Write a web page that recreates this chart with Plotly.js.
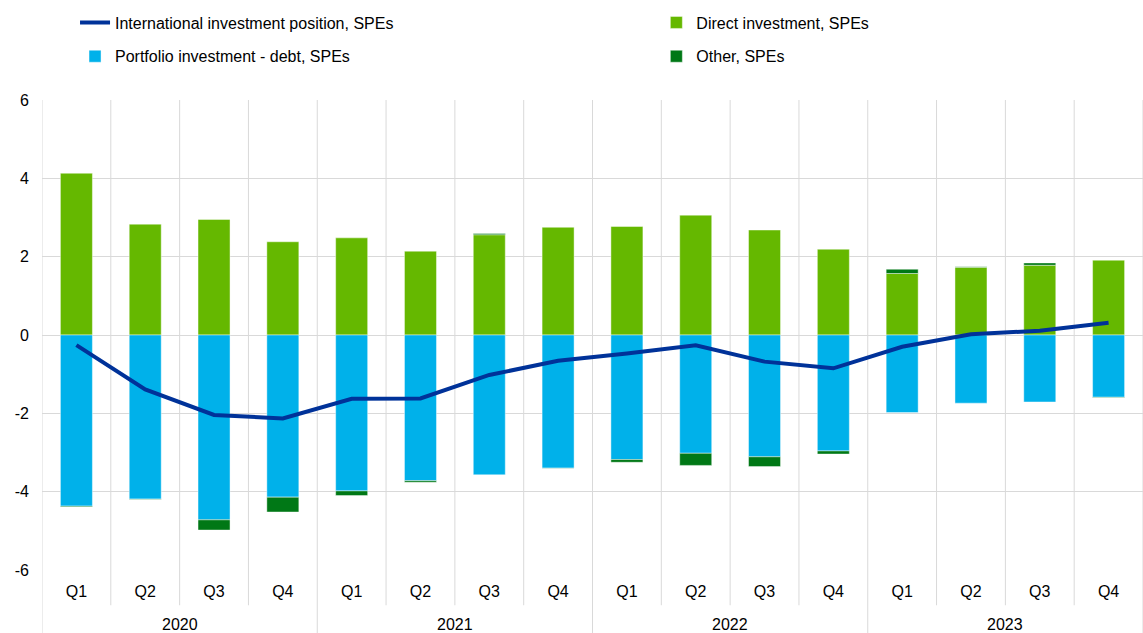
<!DOCTYPE html>
<html>
<head>
<meta charset="utf-8">
<script src="https://cdn.plot.ly/plotly-3.0.1.min.js"></script>
<style>html,body{margin:0;padding:0;background:#fff;}#chart{width:1143px;height:633px;}</style>
</head>
<body>
<div id="chart"></div>
<script>
const years = ["2020", "2021", "2022", "2023"];
const quarterLabels = ["Q1","Q2","Q3","Q4","Q1","Q2","Q3","Q4","Q1","Q2","Q3","Q4","Q1","Q2","Q3","Q4"];
const iip =        [-0.26, -1.39, -2.04, -2.13, -1.63, -1.62, -1.02, -0.66, -0.47, -0.26, -0.68, -0.85, -0.30, 0.02, 0.11, 0.31];
const direct =     [4.13, 2.83, 2.95, 2.38, 2.48, 2.14, 2.56, 2.75, 2.77, 3.06, 2.68, 2.19, 1.57, 1.73, 1.78, 1.91];
const portfolio =  [-4.37, -4.19, -4.72, -4.14, -3.98, -3.72, -3.57, -3.40, -3.18, -3.02, -3.11, -2.96, -1.98, -1.74, -1.71, -1.59];
const other =      [-0.02, -0.01, -0.26, -0.38, -0.12, -0.04, 0.03, -0.01, -0.07, -0.31, -0.25, -0.08, 0.11, 0.01, 0.06, -0.01];
const yTickVals =  [-6, -4, -2, 0, 2, 4, 6];
const yTickText =  ["-6", "-4", "-2", "0", "2", "4", "6"];

const xs = quarterLabels.map((_, i) => i);
const font = "Liberation Sans, Arial, sans-serif";
const barLine = {width: 0.8, color: "rgba(255,255,255,0.55)"};

const traces = [
  {type: "scatter", mode: "lines", name: "International investment position, SPEs", x: xs, y: iip,
   line: {color: "#003299", width: 4}, legend: "legend", legendgroup: "a"},
  {type: "bar", name: "Direct investment, SPEs", x: xs, y: direct,
   marker: {color: "#65B800", line: barLine}, legend: "legend2", legendgroup: "b"},
  {type: "bar", name: "Portfolio investment - debt, SPEs", x: xs, y: portfolio,
   marker: {color: "#00B1EA", line: barLine}, legend: "legend", legendgroup: "c"},
  {type: "bar", name: "Other, SPEs", x: xs, y: other,
   marker: {color: "#007816", line: barLine}, legend: "legend2", legendgroup: "d"}
];

const shapes = [];
for (let i = 0; i <= 16; i++) {
  const isYear = (i % 4 === 0);
  shapes.push({type: "line", xref: "x", yref: "paper", x0: i - 0.5, x1: i - 0.5,
    y0: isYear ? -0.134 : -0.075, y1: 1, layer: "below",
    line: {color: "#d9d9d9", width: 1}});
}
const annotations = years.map((yr, k) => ({
  text: yr, xref: "x", yref: "paper", x: k * 4 + 1.5, y: -0.117, showarrow: false,
  xanchor: "center", yanchor: "middle", font: {family: font, size: 16, color: "#000"}
}));

const legendBase = {orientation: "v", y: 1.201, xanchor: "left", yanchor: "top",
  tracegroupgap: 10, traceorder: "grouped", bgcolor: "rgba(0,0,0,0)",
  font: {family: font, size: 16, color: "#000"}};

const layout = {
  width: 1143, height: 633,
  margin: {l: 42, r: 0, t: 100, b: 63},
  paper_bgcolor: "#fff", plot_bgcolor: "#fff",
  font: {family: font, size: 16, color: "#000"},
  barmode: "relative",
  bargap: 0.535,
  showlegend: true,
  legend: Object.assign({x: 0.03}, legendBase),
  legend2: Object.assign({x: 0.558}, legendBase),
  xaxis: {range: [-0.5, 15.5], tickvals: xs, ticktext: quarterLabels, showgrid: false,
    zeroline: false, showline: false, ticks: "", ticklabelstandoff: 10, fixedrange: true},
  yaxis: {range: [-6, 6], tickvals: yTickVals, ticktext: yTickText, showgrid: true,
    gridcolor: "#d9d9d9", gridwidth: 1,
    zeroline: true, zerolinecolor: "#d9d9d9", zerolinewidth: 1, showline: false, ticks: "",
    ticklabelstandoff: 12, fixedrange: true},
  shapes: shapes,
  annotations: annotations
};

Plotly.newPlot("chart", traces, layout, {displayModeBar: false, staticPlot: true});
</script>
</body>
</html>
